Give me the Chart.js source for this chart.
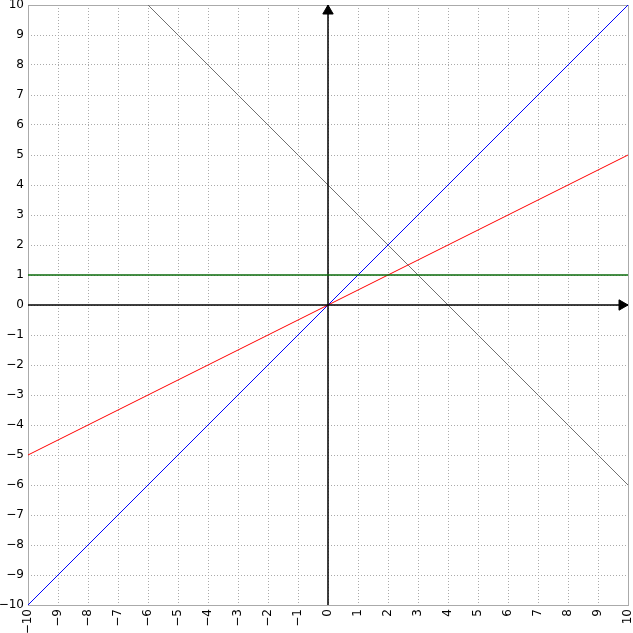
<!DOCTYPE html>
<html>
<head>
<meta charset="utf-8">
<script src="https://cdn.jsdelivr.net/npm/chart.js@4"></script>
<style>
  html, body { margin: 0; padding: 0; background: #fff; }
  #wrap { width: 633px; height: 633px; }
</style>
</head>
<body>
<div id="wrap"><canvas id="grafico" width="633" height="633"></canvas></div>
<script>
// valores
const rangoX = [-10, 10];
const rangoY = [-10, 10];
const rectaAzul = [[-10, -10], [10, 10]];    // y = x
const rectaRoja = [[-10, -5], [10, 5]];      // y = x/2
const rectaGris = [[-6, 10], [10, -6]];      // y = 4 - x
const rectaVerde = [[-10, 1], [10, 1]];      // y = 1
const ejeX = [[-10, 0], [9.8, 0], [10, 0]];
const ejeY = [[0, -10], [0, 9.8], [0, 10]];

const aPuntos = (pares) => pares.map(([x, y]) => ({ x, y }));

const marco = {
  id: 'marco',
  beforeDatasetsDraw(chart) {
    const { ctx, chartArea: a } = chart;
    ctx.save();
    ctx.strokeStyle = '#aaaaaa';
    ctx.lineWidth = 1;
    ctx.strokeRect(Math.round(a.left) + 0.5, Math.round(a.top) + 0.5,
      Math.round(a.right - a.left), Math.round(a.bottom - a.top));
    ctx.restore();
  }
};

const etiqueta = (v) => (v < 0 ? '\u2212' + Math.abs(v) : String(v));

const linea = (datos, color, ancho = 1) => ({
  data: aPuntos(datos),
  borderColor: color,
  borderWidth: ancho,
  pointRadius: 0,
  fill: false,
  tension: 0
});

const flecha = (datos, rot) => ({
  data: aPuntos(datos),
  borderColor: '#000',
  backgroundColor: '#000',
  borderWidth: 1.5,
  pointStyle: 'triangle',
  pointRadius: [0, 6, 0],
  pointBorderWidth: 1,
  pointRotation: rot,
  fill: false,
  clip: false
});

new Chart(document.getElementById('grafico'), {
  type: 'line',
  data: {
    datasets: [
      linea(rectaVerde, '#0b6b0b', 1.5),
      flecha(ejeX, 90),
      flecha(ejeY, 0),
      linea(rectaGris, '#707070'),
      linea(rectaRoja, '#ff0000'),
      linea(rectaAzul, '#0000ff')
    ]
  },
  options: {
    responsive: false,
    animation: false,
    layout: { padding: { top: 5, right: 5, left: 0, bottom: 0 } },
    plugins: { legend: { display: false }, tooltip: { enabled: false } },
    scales: {
      x: {
        type: 'linear',
        min: rangoX[0],
        max: rangoX[1],
        afterFit: (s) => { s.height = 28; s.paddingLeft = 0; s.paddingRight = 0; },
        border: { display: false, dash: [1, 2] },
        grid: { color: '#aaaaaa', lineWidth: 1, drawTicks: false },
        ticks: {
          stepSize: 1,
          autoSkip: false,
          maxRotation: 90,
          minRotation: 90,
          padding: 4,
          color: '#000',
          font: { family: 'DejaVu Sans', size: 12 },
          callback: etiqueta
        }
      },
      y: {
        type: 'linear',
        min: rangoY[0],
        max: rangoY[1],
        afterFit: (s) => { s.width = 28; s.paddingTop = 0; s.paddingBottom = 0; },
        border: { display: false, dash: [1, 2] },
        grid: { color: '#aaaaaa', lineWidth: 1, drawTicks: false },
        ticks: {
          stepSize: 1,
          autoSkip: false,
          padding: 4,
          color: '#000',
          font: { family: 'DejaVu Sans', size: 12 },
          callback: etiqueta
        }
      }
    }
  },
  plugins: [marco]
});
</script>
</body>
</html>
